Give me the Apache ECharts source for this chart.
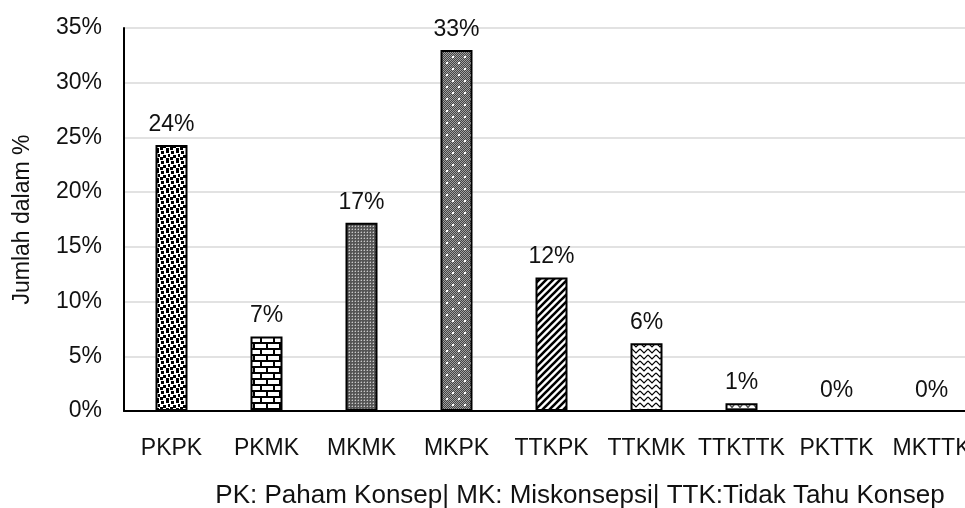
<!DOCTYPE html>
<html>
<head>
<meta charset="utf-8">
<script src="https://cdn.jsdelivr.net/npm/echarts@6/dist/echarts.min.js"></script>
<style>
  html, body { margin: 0; padding: 0; background: #fff; overflow: hidden; }
  /* the plot runs a little past the right edge of the window */
  #chart { width: 979px; height: 508px; }
</style>
</head>
<body>
<div id="chart"></div>
<script>
// Response categories and the share of answers (%) in each one
const categories = ['PKPK', 'PKMK', 'MKMK', 'MKPK', 'TTKPK', 'TTKMK', 'TTKTTK', 'PKTTK', 'MKTTK'];
const values = [24.3, 6.8, 17.2, 33.0, 12.2, 6.2, 0.7, 0, 0];
const yTicks = [0, 5, 10, 15, 20, 25, 30, 35];
const caption = 'PK: Paham Konsep| MK: Miskonsepsi| TTK:Tidak Tahu Konsep';
const yTitle = 'Jumlah dalam %';

const FONT = '"Liberation Sans", Arial, sans-serif';

// Small repeating tiles used as hatch fills for the bars
function tile(w, h, draw) {
  const c = document.createElement('canvas');
  c.width = w; c.height = h;
  const g = c.getContext('2d');
  g.fillStyle = '#fff';
  g.fillRect(0, 0, w, h);
  draw(g, w, h);
  return { image: c, repeat: 'repeat' };
}

const fills = [
  // large confetti
  tile(10, 10, g => {
    g.fillStyle = '#000';
    [[1, 1], [6, 0], [3, 5], [8, 4], [0, 7], [6, 8]].forEach(p => g.fillRect(p[0], p[1], 3, 3));
  }),
  // horizontal brick
  tile(26, 12, g => {
    g.fillStyle = '#000';
    g.fillRect(0, 0, 26, 2);
    g.fillRect(0, 6, 26, 2);
    g.fillRect(0, 0, 2, 6);
    g.fillRect(13, 0, 2, 6);
    g.fillRect(6, 6, 2, 6);
    g.fillRect(19, 6, 2, 6);
  }),
  // fine grey grid
  tile(3, 3, g => {
    g.fillStyle = '#555';
    g.fillRect(0, 0, 3, 3);
    g.fillStyle = '#c8c8c8';
    g.fillRect(1, 1, 1, 1);
    g.fillStyle = '#808080';
    g.fillRect(0, 1, 1, 1);
    g.fillRect(1, 0, 1, 1);
  }),
  // dark grid with white sparkles
  tile(12, 12, g => {
    for (let y = 0; y < 12; y++) {
      for (let x = 0; x < 12; x++) {
        g.fillStyle = (x + y) % 2 ? '#444' : '#a0a0a0';
        g.fillRect(x, y, 1, 1);
      }
    }
    g.fillStyle = '#fff';
    g.fillRect(2, 2, 2, 2);
    g.fillRect(8, 8, 2, 2);
  }),
  // wide upward diagonal
  tile(7, 7, g => {
    g.strokeStyle = '#000';
    g.lineWidth = 2.6;
    g.beginPath();
    g.moveTo(-7, 7); g.lineTo(7, -7);
    g.moveTo(0, 7); g.lineTo(7, 0);
    g.moveTo(0, 14); g.lineTo(14, 0);
    g.stroke();
  }),
  // zigzag
  tile(8, 6, g => {
    g.strokeStyle = '#000';
    g.lineWidth = 1.2;
    g.beginPath();
    g.moveTo(0, 1); g.lineTo(4, 5); g.lineTo(8, 1);
    g.stroke();
  }),
  // trellis
  tile(8, 6, g => {
    g.strokeStyle = '#555';
    g.lineWidth = 1.4;
    g.beginPath();
    g.moveTo(0, 0.5); g.lineTo(4, 5.5); g.lineTo(8, 0.5);
    g.moveTo(0, 0.7); g.lineTo(8, 0.7);
    g.stroke();
  }),
  '#fff',
  '#fff'
];

const chart = echarts.init(document.getElementById('chart'), null, { renderer: 'canvas' });

chart.setOption({
  animation: false,
  backgroundColor: '#fff',
  textStyle: { fontFamily: FONT },
  grid: { left: 124, right: 0, top: 28, bottom: 97, containLabel: false },
  xAxis: {
    type: 'category',
    data: categories,
    axisLine: { lineStyle: { color: '#000', width: 2 } },
    axisTick: { show: false },
    axisLabel: { color: '#111', fontSize: 23, margin: 26, fontFamily: FONT, interval: 0 }
  },
  yAxis: {
    type: 'value',
    min: yTicks[0],
    max: yTicks[yTicks.length - 1],
    interval: 5,
    name: yTitle,
    nameLocation: 'middle',
    nameGap: 90,
    nameTextStyle: { color: '#111', fontSize: 23, fontFamily: FONT },
    axisLine: { show: true, lineStyle: { color: '#000', width: 2 } },
    axisTick: { show: false },
    axisLabel: { color: '#111', fontSize: 23, margin: 22, formatter: '{value}%', fontFamily: FONT },
    splitLine: { lineStyle: { color: '#d9d9d9', width: 1.5 } }
  },
  graphic: [{
    type: 'text',
    x: 580,
    y: 496,
    style: { text: caption, fontSize: 26, fontFamily: FONT, fill: '#111', align: 'center', verticalAlign: 'middle' }
  }],
  series: [{
    type: 'bar',
    barWidth: 32,
    data: values.map((v, i) => ({
      value: v,
      itemStyle: { color: fills[i], borderColor: '#000', borderWidth: v > 0 ? 2 : 0 }
    })),
    label: {
      show: true,
      position: 'top',
      distance: 9,
      fontSize: 23,
      color: '#111',
      fontFamily: FONT,
      formatter: p => Math.round(p.value) + '%'
    }
  }]
});
</script>
</body>
</html>
